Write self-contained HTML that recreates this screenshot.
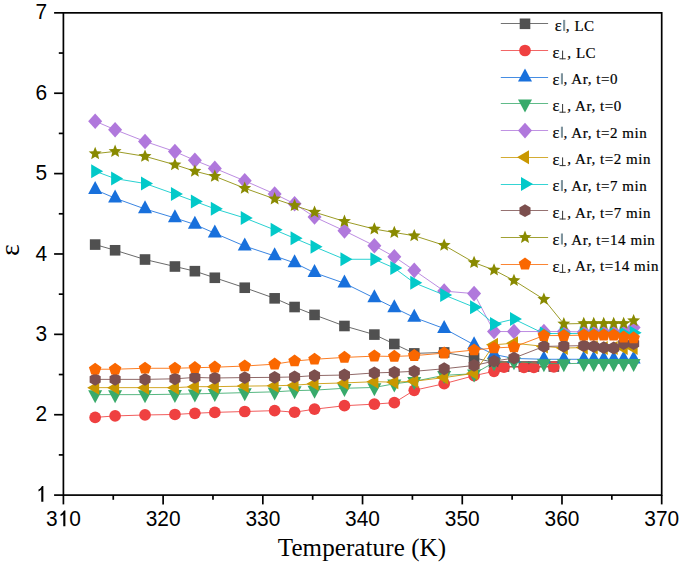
<!DOCTYPE html><html><head><meta charset="utf-8"><style>html,body{margin:0;padding:0;background:#fff;}svg{display:block}</style></head><body>
<svg width="685" height="565" viewBox="0 0 685 565">
<rect width="685" height="565" fill="#fff"/>
<polyline points="95.16,244.57 115.1,250.28 145.02,259.52 174.93,266.51 194.88,271.18 214.82,277.77 244.74,287.73 274.65,298.34 294.59,307.02 314.54,314.9 344.45,325.99 374.37,334.59 394.31,344 414.25,353.4 444.17,352.43 474.08,357.82 494.03,362.48 504,366.5 523.94,366.5 533.91,366.5 553.86,366.5" fill="none" stroke="#505050" stroke-width="1" stroke-opacity="0.85"/>
<rect x="89.86" y="239.27" width="10.6" height="10.6" fill="#505050"/>
<rect x="109.8" y="244.98" width="10.6" height="10.6" fill="#505050"/>
<rect x="139.72" y="254.22" width="10.6" height="10.6" fill="#505050"/>
<rect x="169.63" y="261.21" width="10.6" height="10.6" fill="#505050"/>
<rect x="189.58" y="265.88" width="10.6" height="10.6" fill="#505050"/>
<rect x="209.52" y="272.47" width="10.6" height="10.6" fill="#505050"/>
<rect x="239.44" y="282.43" width="10.6" height="10.6" fill="#505050"/>
<rect x="269.35" y="293.04" width="10.6" height="10.6" fill="#505050"/>
<rect x="289.29" y="301.72" width="10.6" height="10.6" fill="#505050"/>
<rect x="309.24" y="309.6" width="10.6" height="10.6" fill="#505050"/>
<rect x="339.15" y="320.69" width="10.6" height="10.6" fill="#505050"/>
<rect x="369.07" y="329.29" width="10.6" height="10.6" fill="#505050"/>
<rect x="389.01" y="338.69" width="10.6" height="10.6" fill="#505050"/>
<rect x="408.95" y="348.1" width="10.6" height="10.6" fill="#505050"/>
<rect x="438.87" y="347.13" width="10.6" height="10.6" fill="#505050"/>
<rect x="468.78" y="352.52" width="10.6" height="10.6" fill="#505050"/>
<rect x="488.73" y="357.18" width="10.6" height="10.6" fill="#505050"/>
<rect x="498.7" y="361.2" width="10.6" height="10.6" fill="#505050"/>
<rect x="518.64" y="361.2" width="10.6" height="10.6" fill="#505050"/>
<rect x="528.61" y="361.2" width="10.6" height="10.6" fill="#505050"/>
<rect x="548.56" y="361.2" width="10.6" height="10.6" fill="#505050"/>
<polyline points="95.16,417.38 115.1,415.93 145.02,414.97 174.93,414.48 194.88,413.28 214.82,412.39 244.74,411.51 274.65,410.63 294.59,412.23 314.54,409.18 344.45,405.72 374.37,404.12 394.31,402.67 414.25,390.29 444.17,383.7 474.08,375.66 494.03,371.32 504,367.06 523.94,367.3 533.91,367.3 553.86,366.9" fill="none" stroke="#ef4040" stroke-width="1" stroke-opacity="0.85"/>
<circle cx="95.16" cy="417.38" r="5.85" fill="#ef4040"/>
<circle cx="115.1" cy="415.93" r="5.85" fill="#ef4040"/>
<circle cx="145.02" cy="414.97" r="5.85" fill="#ef4040"/>
<circle cx="174.93" cy="414.48" r="5.85" fill="#ef4040"/>
<circle cx="194.88" cy="413.28" r="5.85" fill="#ef4040"/>
<circle cx="214.82" cy="412.39" r="5.85" fill="#ef4040"/>
<circle cx="244.74" cy="411.51" r="5.85" fill="#ef4040"/>
<circle cx="274.65" cy="410.63" r="5.85" fill="#ef4040"/>
<circle cx="294.59" cy="412.23" r="5.85" fill="#ef4040"/>
<circle cx="314.54" cy="409.18" r="5.85" fill="#ef4040"/>
<circle cx="344.45" cy="405.72" r="5.85" fill="#ef4040"/>
<circle cx="374.37" cy="404.12" r="5.85" fill="#ef4040"/>
<circle cx="394.31" cy="402.67" r="5.85" fill="#ef4040"/>
<circle cx="414.25" cy="390.29" r="5.85" fill="#ef4040"/>
<circle cx="444.17" cy="383.7" r="5.85" fill="#ef4040"/>
<circle cx="474.08" cy="375.66" r="5.85" fill="#ef4040"/>
<circle cx="494.03" cy="371.32" r="5.85" fill="#ef4040"/>
<circle cx="504" cy="367.06" r="5.85" fill="#ef4040"/>
<circle cx="523.94" cy="367.3" r="5.85" fill="#ef4040"/>
<circle cx="533.91" cy="367.3" r="5.85" fill="#ef4040"/>
<circle cx="553.86" cy="366.9" r="5.85" fill="#ef4040"/>
<polyline points="95.16,189.68 115.1,198.19 145.02,208.97 174.93,217.97 194.88,224.48 214.82,233.24 244.74,246.1 274.65,255.98 294.59,262.9 314.54,272.78 344.45,283.23 374.37,298.02 394.31,307.83 414.25,317.47 444.17,328.56 474.08,344.8 494.03,354.44 513.97,358.46 543.89,359.27 563.83,359.27 583.77,359.27 593.74,359.27 603.72,359.27 613.69,359.27 623.66,359.27 633.63,359.27" fill="none" stroke="#1870dc" stroke-width="1" stroke-opacity="0.85"/>
<polygon points="95.16,181.01 102.16,194.01 88.16,194.01" fill="#1870dc"/>
<polygon points="115.1,189.53 122.1,202.53 108.1,202.53" fill="#1870dc"/>
<polygon points="145.02,200.3 152.02,213.3 138.02,213.3" fill="#1870dc"/>
<polygon points="174.93,209.3 181.93,222.3 167.93,222.3" fill="#1870dc"/>
<polygon points="194.88,215.81 201.88,228.81 187.88,228.81" fill="#1870dc"/>
<polygon points="214.82,224.57 221.82,237.57 207.82,237.57" fill="#1870dc"/>
<polygon points="244.74,237.43 251.74,250.43 237.74,250.43" fill="#1870dc"/>
<polygon points="274.65,247.32 281.65,260.32 267.65,260.32" fill="#1870dc"/>
<polygon points="294.59,254.23 301.59,267.23 287.59,267.23" fill="#1870dc"/>
<polygon points="314.54,264.12 321.54,277.12 307.54,277.12" fill="#1870dc"/>
<polygon points="344.45,274.56 351.45,287.56 337.45,287.56" fill="#1870dc"/>
<polygon points="374.37,289.35 381.37,302.35 367.37,302.35" fill="#1870dc"/>
<polygon points="394.31,299.16 401.31,312.16 387.31,312.16" fill="#1870dc"/>
<polygon points="414.25,308.8 421.25,321.8 407.25,321.8" fill="#1870dc"/>
<polygon points="444.17,319.9 451.17,332.9 437.17,332.9" fill="#1870dc"/>
<polygon points="474.08,336.13 481.08,349.13 467.08,349.13" fill="#1870dc"/>
<polygon points="494.03,345.78 501.03,358.78 487.03,358.78" fill="#1870dc"/>
<polygon points="513.97,349.8 520.97,362.8 506.97,362.8" fill="#1870dc"/>
<polygon points="543.89,350.6 550.89,363.6 536.89,363.6" fill="#1870dc"/>
<polygon points="563.83,350.6 570.83,363.6 556.83,363.6" fill="#1870dc"/>
<polygon points="583.77,350.6 590.77,363.6 576.77,363.6" fill="#1870dc"/>
<polygon points="593.74,350.6 600.74,363.6 586.74,363.6" fill="#1870dc"/>
<polygon points="603.72,350.6 610.72,363.6 596.72,363.6" fill="#1870dc"/>
<polygon points="613.69,350.6 620.69,363.6 606.69,363.6" fill="#1870dc"/>
<polygon points="623.66,350.6 630.66,363.6 616.66,363.6" fill="#1870dc"/>
<polygon points="633.63,350.6 640.63,363.6 626.63,363.6" fill="#1870dc"/>
<polyline points="95.16,394.63 115.1,394.63 145.02,394.63 174.93,394.23 194.88,393.83 214.82,393.43 244.74,392.62 274.65,391.82 294.59,390.61 314.54,390.13 344.45,388.28 374.37,387.48 394.31,383.78 414.25,381.29 444.17,375.34 474.08,373.73 494.03,362.48 513.97,361.68 543.89,363.53 563.83,363.69 583.77,363.28 593.74,363.28 603.72,363.28 613.69,363.28 623.66,363.28 633.63,363.28" fill="none" stroke="#38aa6b" stroke-width="1" stroke-opacity="0.85"/>
<polygon points="95.16,403.3 88.16,390.3 102.16,390.3" fill="#38aa6b"/>
<polygon points="115.1,403.3 108.1,390.3 122.1,390.3" fill="#38aa6b"/>
<polygon points="145.02,403.3 138.02,390.3 152.02,390.3" fill="#38aa6b"/>
<polygon points="174.93,402.9 167.93,389.9 181.93,389.9" fill="#38aa6b"/>
<polygon points="194.88,402.49 187.88,389.49 201.88,389.49" fill="#38aa6b"/>
<polygon points="214.82,402.09 207.82,389.09 221.82,389.09" fill="#38aa6b"/>
<polygon points="244.74,401.29 237.74,388.29 251.74,388.29" fill="#38aa6b"/>
<polygon points="274.65,400.48 267.65,387.48 281.65,387.48" fill="#38aa6b"/>
<polygon points="294.59,399.28 287.59,386.28 301.59,386.28" fill="#38aa6b"/>
<polygon points="314.54,398.8 307.54,385.8 321.54,385.8" fill="#38aa6b"/>
<polygon points="344.45,396.95 337.45,383.95 351.45,383.95" fill="#38aa6b"/>
<polygon points="374.37,396.14 367.37,383.14 381.37,383.14" fill="#38aa6b"/>
<polygon points="394.31,392.45 387.31,379.45 401.31,379.45" fill="#38aa6b"/>
<polygon points="414.25,389.96 407.25,376.96 421.25,376.96" fill="#38aa6b"/>
<polygon points="444.17,384.01 437.17,371.01 451.17,371.01" fill="#38aa6b"/>
<polygon points="474.08,382.4 467.08,369.4 481.08,369.4" fill="#38aa6b"/>
<polygon points="494.03,371.15 487.03,358.15 501.03,358.15" fill="#38aa6b"/>
<polygon points="513.97,370.34 506.97,357.34 520.97,357.34" fill="#38aa6b"/>
<polygon points="543.89,372.19 536.89,359.19 550.89,359.19" fill="#38aa6b"/>
<polygon points="563.83,372.35 556.83,359.35 570.83,359.35" fill="#38aa6b"/>
<polygon points="583.77,371.95 576.77,358.95 590.77,358.95" fill="#38aa6b"/>
<polygon points="593.74,371.95 586.74,358.95 600.74,358.95" fill="#38aa6b"/>
<polygon points="603.72,371.95 596.72,358.95 610.72,358.95" fill="#38aa6b"/>
<polygon points="613.69,371.95 606.69,358.95 620.69,358.95" fill="#38aa6b"/>
<polygon points="623.66,371.95 616.66,358.95 630.66,358.95" fill="#38aa6b"/>
<polygon points="633.63,371.95 626.63,358.95 640.63,358.95" fill="#38aa6b"/>
<polyline points="95.16,121.2 115.1,129.72 145.02,141.45 174.93,151.58 194.88,160.34 214.82,168.38 244.74,180.83 274.65,193.93 294.59,203.82 314.54,217 344.45,230.83 374.37,245.7 394.31,256.79 414.25,270.37 444.17,291.11 474.08,293.6 494.03,331.54 513.97,331.54 543.89,331.54 563.83,331.54 583.77,331.94 593.74,331.94 603.72,331.94 613.69,331.94 623.66,331.94 633.63,327.52" fill="none" stroke="#b078dc" stroke-width="1" stroke-opacity="0.85"/>
<polygon points="95.16,113.4 102.16,121.2 95.16,129 88.16,121.2" fill="#b078dc"/>
<polygon points="115.1,121.92 122.1,129.72 115.1,137.52 108.1,129.72" fill="#b078dc"/>
<polygon points="145.02,133.65 152.02,141.45 145.02,149.25 138.02,141.45" fill="#b078dc"/>
<polygon points="174.93,143.78 181.93,151.58 174.93,159.38 167.93,151.58" fill="#b078dc"/>
<polygon points="194.88,152.54 201.88,160.34 194.88,168.14 187.88,160.34" fill="#b078dc"/>
<polygon points="214.82,160.58 221.82,168.38 214.82,176.18 207.82,168.38" fill="#b078dc"/>
<polygon points="244.74,173.03 251.74,180.83 244.74,188.63 237.74,180.83" fill="#b078dc"/>
<polygon points="274.65,186.13 281.65,193.93 274.65,201.73 267.65,193.93" fill="#b078dc"/>
<polygon points="294.59,196.02 301.59,203.82 294.59,211.62 287.59,203.82" fill="#b078dc"/>
<polygon points="314.54,209.2 321.54,217 314.54,224.8 307.54,217" fill="#b078dc"/>
<polygon points="344.45,223.03 351.45,230.83 344.45,238.63 337.45,230.83" fill="#b078dc"/>
<polygon points="374.37,237.9 381.37,245.7 374.37,253.5 367.37,245.7" fill="#b078dc"/>
<polygon points="394.31,248.99 401.31,256.79 394.31,264.59 387.31,256.79" fill="#b078dc"/>
<polygon points="414.25,262.57 421.25,270.37 414.25,278.17 407.25,270.37" fill="#b078dc"/>
<polygon points="444.17,283.31 451.17,291.11 444.17,298.91 437.17,291.11" fill="#b078dc"/>
<polygon points="474.08,285.8 481.08,293.6 474.08,301.4 467.08,293.6" fill="#b078dc"/>
<polygon points="494.03,323.74 501.03,331.54 494.03,339.34 487.03,331.54" fill="#b078dc"/>
<polygon points="513.97,323.74 520.97,331.54 513.97,339.34 506.97,331.54" fill="#b078dc"/>
<polygon points="543.89,323.74 550.89,331.54 543.89,339.34 536.89,331.54" fill="#b078dc"/>
<polygon points="563.83,323.74 570.83,331.54 563.83,339.34 556.83,331.54" fill="#b078dc"/>
<polygon points="583.77,324.14 590.77,331.94 583.77,339.74 576.77,331.94" fill="#b078dc"/>
<polygon points="593.74,324.14 600.74,331.94 593.74,339.74 586.74,331.94" fill="#b078dc"/>
<polygon points="603.72,324.14 610.72,331.94 603.72,339.74 596.72,331.94" fill="#b078dc"/>
<polygon points="613.69,324.14 620.69,331.94 613.69,339.74 606.69,331.94" fill="#b078dc"/>
<polygon points="623.66,324.14 630.66,331.94 623.66,339.74 616.66,331.94" fill="#b078dc"/>
<polygon points="633.63,319.72 640.63,327.52 633.63,335.32 626.63,327.52" fill="#b078dc"/>
<polyline points="95.16,387.64 115.1,387.64 145.02,387.64 174.93,387.64 194.88,386.67 214.82,386.67 244.74,386.11 274.65,385.79 294.59,385.15 314.54,383.78 344.45,382.9 374.37,381.69 394.31,382.17 414.25,381.21 444.17,377.59 474.08,373.33 494.03,344.8 513.97,343.19 543.89,346.41 563.83,348.01 583.77,347.61 593.74,347.61 603.72,348.01 613.69,348.01 623.66,348.01 633.63,348.01" fill="none" stroke="#c99700" stroke-width="1" stroke-opacity="0.85"/>
<polygon points="87.16,387.64 99.16,380.64 99.16,394.64" fill="#c99700"/>
<polygon points="107.1,387.64 119.1,380.64 119.1,394.64" fill="#c99700"/>
<polygon points="137.02,387.64 149.02,380.64 149.02,394.64" fill="#c99700"/>
<polygon points="166.93,387.64 178.93,380.64 178.93,394.64" fill="#c99700"/>
<polygon points="186.88,386.67 198.88,379.67 198.88,393.67" fill="#c99700"/>
<polygon points="206.82,386.67 218.82,379.67 218.82,393.67" fill="#c99700"/>
<polygon points="236.74,386.11 248.74,379.11 248.74,393.11" fill="#c99700"/>
<polygon points="266.65,385.79 278.65,378.79 278.65,392.79" fill="#c99700"/>
<polygon points="286.59,385.15 298.59,378.15 298.59,392.15" fill="#c99700"/>
<polygon points="306.54,383.78 318.54,376.78 318.54,390.78" fill="#c99700"/>
<polygon points="336.45,382.9 348.45,375.9 348.45,389.9" fill="#c99700"/>
<polygon points="366.37,381.69 378.37,374.69 378.37,388.69" fill="#c99700"/>
<polygon points="386.31,382.17 398.31,375.17 398.31,389.17" fill="#c99700"/>
<polygon points="406.25,381.21 418.25,374.21 418.25,388.21" fill="#c99700"/>
<polygon points="436.17,377.59 448.17,370.59 448.17,384.59" fill="#c99700"/>
<polygon points="466.08,373.33 478.08,366.33 478.08,380.33" fill="#c99700"/>
<polygon points="486.03,344.8 498.03,337.8 498.03,351.8" fill="#c99700"/>
<polygon points="505.97,343.19 517.97,336.19 517.97,350.19" fill="#c99700"/>
<polygon points="535.89,346.41 547.89,339.41 547.89,353.41" fill="#c99700"/>
<polygon points="555.83,348.01 567.83,341.01 567.83,355.01" fill="#c99700"/>
<polygon points="575.77,347.61 587.77,340.61 587.77,354.61" fill="#c99700"/>
<polygon points="585.74,347.61 597.74,340.61 597.74,354.61" fill="#c99700"/>
<polygon points="595.72,348.01 607.72,341.01 607.72,355.01" fill="#c99700"/>
<polygon points="605.69,348.01 617.69,341.01 617.69,355.01" fill="#c99700"/>
<polygon points="615.66,348.01 627.66,341.01 627.66,355.01" fill="#c99700"/>
<polygon points="625.63,348.01 637.63,341.01 637.63,355.01" fill="#c99700"/>
<polyline points="95.16,171.19 115.1,178.58 145.02,183.49 174.93,194.1 194.88,201.41 214.82,208.8 244.74,217.97 274.65,229.86 294.59,238.3 314.54,246.74 344.45,259.28 374.37,259.28 394.31,268.04 414.25,282.83 444.17,294.97 474.08,307.18 494.03,323.9 513.97,319.08 543.89,333.55 563.83,333.55 583.77,333.55 593.74,333.55 603.72,333.55 613.69,333.55 623.66,333.55 633.63,332.74" fill="none" stroke="#02c9c9" stroke-width="1" stroke-opacity="0.85"/>
<polygon points="103.16,171.19 91.16,178.19 91.16,164.19" fill="#02c9c9"/>
<polygon points="123.1,178.58 111.1,185.58 111.1,171.58" fill="#02c9c9"/>
<polygon points="153.02,183.49 141.02,190.49 141.02,176.49" fill="#02c9c9"/>
<polygon points="182.93,194.1 170.93,201.1 170.93,187.1" fill="#02c9c9"/>
<polygon points="202.88,201.41 190.88,208.41 190.88,194.41" fill="#02c9c9"/>
<polygon points="222.82,208.8 210.82,215.8 210.82,201.8" fill="#02c9c9"/>
<polygon points="252.74,217.97 240.74,224.97 240.74,210.97" fill="#02c9c9"/>
<polygon points="282.65,229.86 270.65,236.86 270.65,222.86" fill="#02c9c9"/>
<polygon points="302.59,238.3 290.59,245.3 290.59,231.3" fill="#02c9c9"/>
<polygon points="322.54,246.74 310.54,253.74 310.54,239.74" fill="#02c9c9"/>
<polygon points="352.45,259.28 340.45,266.28 340.45,252.28" fill="#02c9c9"/>
<polygon points="382.37,259.28 370.37,266.28 370.37,252.28" fill="#02c9c9"/>
<polygon points="402.31,268.04 390.31,275.04 390.31,261.04" fill="#02c9c9"/>
<polygon points="422.25,282.83 410.25,289.83 410.25,275.83" fill="#02c9c9"/>
<polygon points="452.17,294.97 440.17,301.97 440.17,287.97" fill="#02c9c9"/>
<polygon points="482.08,307.18 470.08,314.18 470.08,300.18" fill="#02c9c9"/>
<polygon points="502.03,323.9 490.03,330.9 490.03,316.9" fill="#02c9c9"/>
<polygon points="521.97,319.08 509.97,326.08 509.97,312.08" fill="#02c9c9"/>
<polygon points="551.89,333.55 539.89,340.55 539.89,326.55" fill="#02c9c9"/>
<polygon points="571.83,333.55 559.83,340.55 559.83,326.55" fill="#02c9c9"/>
<polygon points="591.77,333.55 579.77,340.55 579.77,326.55" fill="#02c9c9"/>
<polygon points="601.74,333.55 589.74,340.55 589.74,326.55" fill="#02c9c9"/>
<polygon points="611.72,333.55 599.72,340.55 599.72,326.55" fill="#02c9c9"/>
<polygon points="621.69,333.55 609.69,340.55 609.69,326.55" fill="#02c9c9"/>
<polygon points="631.66,333.55 619.66,340.55 619.66,326.55" fill="#02c9c9"/>
<polygon points="641.63,332.74 629.63,339.74 629.63,325.74" fill="#02c9c9"/>
<polyline points="95.16,379.36 115.1,379.36 145.02,379.36 174.93,378.8 194.88,377.43 214.82,377.99 244.74,377.59 274.65,377.35 294.59,376.95 314.54,375.58 344.45,375.02 374.37,372.93 394.31,372.29 414.25,371.32 444.17,368.75 474.08,365.46 494.03,361.11 513.97,358.06 543.89,346.41 563.83,346 583.77,345.6 593.74,346.41 603.72,347.61 613.69,348.01 623.66,343.59 633.63,343.59" fill="none" stroke="#7c4f4e" stroke-width="1" stroke-opacity="0.85"/>
<polygon points="95.16,372.96 100.7,376.16 100.7,382.56 95.16,385.76 89.62,382.56 89.62,376.16" fill="#7c4f4e"/>
<polygon points="115.1,372.96 120.65,376.16 120.65,382.56 115.1,385.76 109.56,382.56 109.56,376.16" fill="#7c4f4e"/>
<polygon points="145.02,372.96 150.56,376.16 150.56,382.56 145.02,385.76 139.48,382.56 139.48,376.16" fill="#7c4f4e"/>
<polygon points="174.93,372.4 180.48,375.6 180.48,382 174.93,385.2 169.39,382 169.39,375.6" fill="#7c4f4e"/>
<polygon points="194.88,371.03 200.42,374.23 200.42,380.63 194.88,383.83 189.33,380.63 189.33,374.23" fill="#7c4f4e"/>
<polygon points="214.82,371.59 220.36,374.79 220.36,381.19 214.82,384.39 209.28,381.19 209.28,374.79" fill="#7c4f4e"/>
<polygon points="244.74,371.19 250.28,374.39 250.28,380.79 244.74,383.99 239.19,380.79 239.19,374.39" fill="#7c4f4e"/>
<polygon points="274.65,370.95 280.19,374.15 280.19,380.55 274.65,383.75 269.11,380.55 269.11,374.15" fill="#7c4f4e"/>
<polygon points="294.59,370.55 300.14,373.75 300.14,380.15 294.59,383.35 289.05,380.15 289.05,373.75" fill="#7c4f4e"/>
<polygon points="314.54,369.18 320.08,372.38 320.08,378.78 314.54,381.98 308.99,378.78 308.99,372.38" fill="#7c4f4e"/>
<polygon points="344.45,368.62 349.99,371.82 349.99,378.22 344.45,381.42 338.91,378.22 338.91,371.82" fill="#7c4f4e"/>
<polygon points="374.37,366.53 379.91,369.73 379.91,376.13 374.37,379.33 368.82,376.13 368.82,369.73" fill="#7c4f4e"/>
<polygon points="394.31,365.89 399.85,369.09 399.85,375.49 394.31,378.69 388.77,375.49 388.77,369.09" fill="#7c4f4e"/>
<polygon points="414.25,364.92 419.8,368.12 419.8,374.52 414.25,377.72 408.71,374.52 408.71,368.12" fill="#7c4f4e"/>
<polygon points="444.17,362.35 449.71,365.55 449.71,371.95 444.17,375.15 438.63,371.95 438.63,365.55" fill="#7c4f4e"/>
<polygon points="474.08,359.06 479.63,362.26 479.63,368.66 474.08,371.86 468.54,368.66 468.54,362.26" fill="#7c4f4e"/>
<polygon points="494.03,354.71 499.57,357.91 499.57,364.31 494.03,367.51 488.48,364.31 488.48,357.91" fill="#7c4f4e"/>
<polygon points="513.97,351.66 519.51,354.86 519.51,361.26 513.97,364.46 508.43,361.26 508.43,354.86" fill="#7c4f4e"/>
<polygon points="543.89,340.01 549.43,343.21 549.43,349.61 543.89,352.81 538.34,349.61 538.34,343.21" fill="#7c4f4e"/>
<polygon points="563.83,339.6 569.37,342.8 569.37,349.2 563.83,352.4 558.29,349.2 558.29,342.8" fill="#7c4f4e"/>
<polygon points="583.77,339.2 589.31,342.4 589.31,348.8 583.77,352 578.23,348.8 578.23,342.4" fill="#7c4f4e"/>
<polygon points="593.74,340.01 599.29,343.21 599.29,349.61 593.74,352.81 588.2,349.61 588.2,343.21" fill="#7c4f4e"/>
<polygon points="603.72,341.21 609.26,344.41 609.26,350.81 603.72,354.01 598.17,350.81 598.17,344.41" fill="#7c4f4e"/>
<polygon points="613.69,341.61 619.23,344.81 619.23,351.21 613.69,354.41 608.14,351.21 608.14,344.81" fill="#7c4f4e"/>
<polygon points="623.66,337.19 629.2,340.39 629.2,346.79 623.66,349.99 618.12,346.79 618.12,340.39" fill="#7c4f4e"/>
<polygon points="633.63,337.19 639.17,340.39 639.17,346.79 633.63,349.99 628.09,346.79 628.09,340.39" fill="#7c4f4e"/>
<polyline points="95.16,153.67 115.1,151.42 145.02,156.32 174.93,164.76 194.88,171.19 214.82,176.33 244.74,188.23 274.65,198.92 294.59,205.59 314.54,212.18 344.45,221.42 374.37,229.06 394.31,232.51 414.25,235.73 444.17,245.29 474.08,262.58 494.03,270.05 513.97,280.5 543.89,299.31 563.83,323.9 583.77,323.5 593.74,323.5 603.72,323.5 613.69,323.5 623.66,323.5 633.63,320.69" fill="none" stroke="#898a00" stroke-width="1" stroke-opacity="0.85"/>
<polygon points="95.16,146.87 96.96,151.19 101.63,151.57 98.07,154.61 99.16,159.17 95.16,156.73 91.16,159.17 92.25,154.61 88.69,151.57 93.36,151.19" fill="#898a00"/>
<polygon points="115.1,144.62 116.9,148.94 121.57,149.32 118.01,152.36 119.1,156.92 115.1,154.48 111.11,156.92 112.19,152.36 108.64,149.32 113.31,148.94" fill="#898a00"/>
<polygon points="145.02,149.52 146.82,153.84 151.49,154.22 147.93,157.26 149.02,161.82 145.02,159.38 141.02,161.82 142.11,157.26 138.55,154.22 143.22,153.84" fill="#898a00"/>
<polygon points="174.93,157.96 176.73,162.28 181.4,162.66 177.84,165.7 178.93,170.26 174.93,167.82 170.94,170.26 172.02,165.7 168.47,162.66 173.14,162.28" fill="#898a00"/>
<polygon points="194.88,164.39 196.68,168.71 201.34,169.09 197.79,172.13 198.87,176.69 194.88,174.25 190.88,176.69 191.97,172.13 188.41,169.09 193.08,168.71" fill="#898a00"/>
<polygon points="214.82,169.53 216.62,173.86 221.29,174.23 217.73,177.28 218.82,181.83 214.82,179.39 210.82,181.83 211.91,177.28 208.35,174.23 213.02,173.86" fill="#898a00"/>
<polygon points="244.74,181.43 246.53,185.75 251.2,186.13 247.65,189.17 248.73,193.73 244.74,191.29 240.74,193.73 241.83,189.17 238.27,186.13 242.94,185.75" fill="#898a00"/>
<polygon points="274.65,192.12 276.45,196.44 281.12,196.82 277.56,199.86 278.65,204.42 274.65,201.98 270.65,204.42 271.74,199.86 268.18,196.82 272.85,196.44" fill="#898a00"/>
<polygon points="294.59,198.79 296.39,203.11 301.06,203.49 297.5,206.53 298.59,211.09 294.59,208.65 290.6,211.09 291.68,206.53 288.13,203.49 292.8,203.11" fill="#898a00"/>
<polygon points="314.54,205.38 316.34,209.7 321,210.08 317.45,213.13 318.53,217.68 314.54,215.24 310.54,217.68 311.63,213.13 308.07,210.08 312.74,209.7" fill="#898a00"/>
<polygon points="344.45,214.62 346.25,218.95 350.92,219.32 347.36,222.37 348.45,226.92 344.45,224.48 340.46,226.92 341.54,222.37 337.99,219.32 342.65,218.95" fill="#898a00"/>
<polygon points="374.37,222.26 376.17,226.58 380.83,226.96 377.28,230 378.36,234.56 374.37,232.12 370.37,234.56 371.46,230 367.9,226.96 372.57,226.58" fill="#898a00"/>
<polygon points="394.31,225.71 396.11,230.04 400.78,230.41 397.22,233.46 398.31,238.02 394.31,235.57 390.31,238.02 391.4,233.46 387.84,230.41 392.51,230.04" fill="#898a00"/>
<polygon points="414.25,228.93 416.05,233.25 420.72,233.63 417.16,236.68 418.25,241.23 414.25,238.79 410.26,241.23 411.34,236.68 407.79,233.63 412.46,233.25" fill="#898a00"/>
<polygon points="444.17,238.49 445.97,242.82 450.64,243.19 447.08,246.24 448.17,250.8 444.17,248.35 440.17,250.8 441.26,246.24 437.7,243.19 442.37,242.82" fill="#898a00"/>
<polygon points="474.08,255.78 475.88,260.1 480.55,260.47 476.99,263.52 478.08,268.08 474.08,265.64 470.09,268.08 471.17,263.52 467.62,260.47 472.29,260.1" fill="#898a00"/>
<polygon points="494.03,263.25 495.83,267.57 500.49,267.95 496.94,271 498.02,275.55 494.03,273.11 490.03,275.55 491.12,271 487.56,267.95 492.23,267.57" fill="#898a00"/>
<polygon points="513.97,273.7 515.77,278.02 520.44,278.4 516.88,281.44 517.97,286 513.97,283.56 509.97,286 511.06,281.44 507.5,278.4 512.17,278.02" fill="#898a00"/>
<polygon points="543.89,292.51 545.68,296.83 550.35,297.21 546.8,300.25 547.88,304.81 543.89,302.37 539.89,304.81 540.98,300.25 537.42,297.21 542.09,296.83" fill="#898a00"/>
<polygon points="563.83,317.1 565.63,321.43 570.3,321.8 566.74,324.85 567.83,329.4 563.83,326.96 559.83,329.4 560.92,324.85 557.36,321.8 562.03,321.43" fill="#898a00"/>
<polygon points="583.77,316.7 585.57,321.02 590.24,321.4 586.68,324.44 587.77,329 583.77,326.56 579.78,329 580.86,324.44 577.31,321.4 581.97,321.02" fill="#898a00"/>
<polygon points="593.74,316.7 595.54,321.02 600.21,321.4 596.65,324.44 597.74,329 593.74,326.56 589.75,329 590.83,324.44 587.28,321.4 591.95,321.02" fill="#898a00"/>
<polygon points="603.72,316.7 605.51,321.02 610.18,321.4 606.63,324.44 607.71,329 603.72,326.56 599.72,329 600.81,324.44 597.25,321.4 601.92,321.02" fill="#898a00"/>
<polygon points="613.69,316.7 615.49,321.02 620.15,321.4 616.6,324.44 617.68,329 613.69,326.56 609.69,329 610.78,324.44 607.22,321.4 611.89,321.02" fill="#898a00"/>
<polygon points="623.66,316.7 625.46,321.02 630.13,321.4 626.57,324.44 627.66,329 623.66,326.56 619.66,329 620.75,324.44 617.19,321.4 621.86,321.02" fill="#898a00"/>
<polygon points="633.63,313.89 635.43,318.21 640.1,318.58 636.54,321.63 637.63,326.19 633.63,323.75 629.63,326.19 630.72,321.63 627.16,318.58 631.83,318.21" fill="#898a00"/>
<polyline points="95.16,369.23 115.1,369.23 145.02,368.27 174.93,368.27 194.88,367.71 214.82,367.22 244.74,366.02 274.65,364.17 294.59,361.03 314.54,359.27 344.45,357.42 374.37,356.13 394.31,356.45 414.25,355.65 444.17,353.08 474.08,350.02 494.03,348.01 513.97,346.97 543.89,335.56 563.83,335.56 583.77,335.15 593.74,335.15 603.72,335.15 613.69,335.15 623.66,337.16 633.63,337.97" fill="none" stroke="#fa6700" stroke-width="1" stroke-opacity="0.85"/>
<polygon points="95.16,362.63 101.44,367.19 99.04,374.57 91.28,374.57 88.88,367.19" fill="#fa6700"/>
<polygon points="115.1,362.63 121.38,367.19 118.98,374.57 111.22,374.57 108.83,367.19" fill="#fa6700"/>
<polygon points="145.02,361.67 151.3,366.23 148.9,373.61 141.14,373.61 138.74,366.23" fill="#fa6700"/>
<polygon points="174.93,361.67 181.21,366.23 178.81,373.61 171.05,373.61 168.66,366.23" fill="#fa6700"/>
<polygon points="194.88,361.11 201.15,365.67 198.76,373.05 191,373.05 188.6,365.67" fill="#fa6700"/>
<polygon points="214.82,360.62 221.1,365.18 218.7,372.56 210.94,372.56 208.54,365.18" fill="#fa6700"/>
<polygon points="244.74,359.42 251.01,363.98 248.62,371.36 240.86,371.36 238.46,363.98" fill="#fa6700"/>
<polygon points="274.65,357.57 280.93,362.13 278.53,369.51 270.77,369.51 268.37,362.13" fill="#fa6700"/>
<polygon points="294.59,354.43 300.87,358.99 298.47,366.37 290.71,366.37 288.32,358.99" fill="#fa6700"/>
<polygon points="314.54,352.67 320.81,357.23 318.42,364.61 310.66,364.61 308.26,357.23" fill="#fa6700"/>
<polygon points="344.45,350.82 350.73,355.38 348.33,362.76 340.57,362.76 338.18,355.38" fill="#fa6700"/>
<polygon points="374.37,349.53 380.64,354.09 378.25,361.47 370.49,361.47 368.09,354.09" fill="#fa6700"/>
<polygon points="394.31,349.85 400.59,354.41 398.19,361.79 390.43,361.79 388.03,354.41" fill="#fa6700"/>
<polygon points="414.25,349.05 420.53,353.61 418.13,360.99 410.37,360.99 407.98,353.61" fill="#fa6700"/>
<polygon points="444.17,346.48 450.45,351.04 448.05,358.42 440.29,358.42 437.89,351.04" fill="#fa6700"/>
<polygon points="474.08,343.42 480.36,347.98 477.96,355.36 470.2,355.36 467.81,347.98" fill="#fa6700"/>
<polygon points="494.03,341.41 500.3,345.97 497.91,353.35 490.15,353.35 487.75,345.97" fill="#fa6700"/>
<polygon points="513.97,340.37 520.25,344.93 517.85,352.31 510.09,352.31 507.69,344.93" fill="#fa6700"/>
<polygon points="543.89,328.96 550.16,333.52 547.77,340.9 540.01,340.9 537.61,333.52" fill="#fa6700"/>
<polygon points="563.83,328.96 570.11,333.52 567.71,340.9 559.95,340.9 557.55,333.52" fill="#fa6700"/>
<polygon points="583.77,328.55 590.05,333.11 587.65,340.49 579.89,340.49 577.5,333.11" fill="#fa6700"/>
<polygon points="593.74,328.55 600.02,333.11 597.62,340.49 589.86,340.49 587.47,333.11" fill="#fa6700"/>
<polygon points="603.72,328.55 609.99,333.11 607.6,340.49 599.84,340.49 597.44,333.11" fill="#fa6700"/>
<polygon points="613.69,328.55 619.96,333.11 617.57,340.49 609.81,340.49 607.41,333.11" fill="#fa6700"/>
<polygon points="623.66,330.56 629.94,335.12 627.54,342.5 619.78,342.5 617.38,335.12" fill="#fa6700"/>
<polygon points="633.63,331.37 639.91,335.93 637.51,343.31 629.75,343.31 627.35,335.93" fill="#fa6700"/>
<g stroke="#000" stroke-width="1.7" fill="none" stroke-linecap="butt">
<rect x="63.4" y="12.85" width="598.3" height="482.25"/>
<line x1="54.1" y1="495.1" x2="63.4" y2="495.1"/>
<line x1="54.1" y1="414.73" x2="63.4" y2="414.73"/>
<line x1="54.1" y1="334.35" x2="63.4" y2="334.35"/>
<line x1="54.1" y1="253.98" x2="63.4" y2="253.98"/>
<line x1="54.1" y1="173.6" x2="63.4" y2="173.6"/>
<line x1="54.1" y1="93.23" x2="63.4" y2="93.23"/>
<line x1="54.1" y1="12.85" x2="63.4" y2="12.85"/>
<line x1="58.8" y1="454.91" x2="63.4" y2="454.91"/>
<line x1="58.8" y1="374.54" x2="63.4" y2="374.54"/>
<line x1="58.8" y1="294.16" x2="63.4" y2="294.16"/>
<line x1="58.8" y1="213.79" x2="63.4" y2="213.79"/>
<line x1="58.8" y1="133.41" x2="63.4" y2="133.41"/>
<line x1="58.8" y1="53.04" x2="63.4" y2="53.04"/>
<line x1="63.4" y1="495.1" x2="63.4" y2="504.4"/>
<line x1="163.12" y1="495.1" x2="163.12" y2="504.4"/>
<line x1="262.83" y1="495.1" x2="262.83" y2="504.4"/>
<line x1="362.55" y1="495.1" x2="362.55" y2="504.4"/>
<line x1="462.27" y1="495.1" x2="462.27" y2="504.4"/>
<line x1="561.98" y1="495.1" x2="561.98" y2="504.4"/>
<line x1="661.7" y1="495.1" x2="661.7" y2="504.4"/>
<line x1="113.26" y1="495.1" x2="113.26" y2="499.8"/>
<line x1="212.98" y1="495.1" x2="212.98" y2="499.8"/>
<line x1="312.69" y1="495.1" x2="312.69" y2="499.8"/>
<line x1="412.41" y1="495.1" x2="412.41" y2="499.8"/>
<line x1="512.13" y1="495.1" x2="512.13" y2="499.8"/>
<line x1="611.84" y1="495.1" x2="611.84" y2="499.8"/>
</g>
<g font-family="Liberation Sans, sans-serif" font-size="22" fill="#000">
<path d="M43.37,501.7 L41.26,501.7 L41.26,489.6 L40.8,490.11 L39.76,490.83 L38.51,491.47 L38.51,489.6 L39.97,488.68 L40.85,487.69 L41.41,486.74 L42.17,485.95 L43.37,485.95 Z"/>
<text transform="translate(35.58,421.33) scale(0.95,1)">2</text>
<text transform="translate(35.58,340.95) scale(0.95,1)">3</text>
<text transform="translate(35.58,260.58) scale(0.95,1)">4</text>
<text transform="translate(35.58,180.2) scale(0.95,1)">5</text>
<text transform="translate(35.58,99.83) scale(0.95,1)">6</text>
<text transform="translate(35.58,19.45) scale(0.95,1)">7</text>
<text transform="translate(45.97,526.3) scale(0.95,1)">3</text><path d="M65.38,526.3 L63.27,526.3 L63.27,514.2 L62.81,514.71 L61.77,515.43 L60.52,516.07 L60.52,514.2 L61.98,513.28 L62.86,512.29 L63.42,511.34 L64.18,510.55 L65.38,510.55 Z"/><text transform="translate(69.21,526.3) scale(0.95,1)">0</text>
<text transform="translate(145.69,526.3) scale(0.95,1)">3</text><text transform="translate(157.31,526.3) scale(0.95,1)">2</text><text transform="translate(168.93,526.3) scale(0.95,1)">0</text>
<text transform="translate(245.4,526.3) scale(0.95,1)">3</text><text transform="translate(257.02,526.3) scale(0.95,1)">3</text><text transform="translate(268.64,526.3) scale(0.95,1)">0</text>
<text transform="translate(345.12,526.3) scale(0.95,1)">3</text><text transform="translate(356.74,526.3) scale(0.95,1)">4</text><text transform="translate(368.36,526.3) scale(0.95,1)">0</text>
<text transform="translate(444.84,526.3) scale(0.95,1)">3</text><text transform="translate(456.46,526.3) scale(0.95,1)">5</text><text transform="translate(468.08,526.3) scale(0.95,1)">0</text>
<text transform="translate(544.55,526.3) scale(0.95,1)">3</text><text transform="translate(556.17,526.3) scale(0.95,1)">6</text><text transform="translate(567.79,526.3) scale(0.95,1)">0</text>
<text transform="translate(644.27,526.3) scale(0.95,1)">3</text><text transform="translate(655.89,526.3) scale(0.95,1)">7</text><text transform="translate(667.51,526.3) scale(0.95,1)">0</text>
</g>
<text x="362" y="556.3" text-anchor="middle" font-family="Liberation Serif, serif" font-size="25" letter-spacing="0.1" fill="#000">Temperature (K)</text>
<text transform="translate(18.9,250.2) rotate(-90)" text-anchor="middle" font-family="Liberation Serif, serif" font-size="28" fill="#000">ε</text>
<line x1="500.8" y1="23.5" x2="548.1" y2="23.5" stroke="#505050" stroke-width="1" stroke-opacity="0.8"/>
<rect x="519.7" y="18.5" width="10.6" height="10.6" fill="#505050"/>
<text transform="translate(554.8,31.2)" font-family="Liberation Serif, serif" font-size="16.5" fill="#000" stroke="#000" stroke-width="0.2">ε</text>
<rect x="563.1" y="19.9" width="2.1" height="11" fill="#7f949e"/>
<text x="565.8" y="30.9" font-family="Liberation Serif, serif" font-size="15" letter-spacing="0.55" fill="#000" stroke="#000" stroke-width="0.2">, LC</text>
<line x1="500.8" y1="50.5" x2="548.1" y2="50.5" stroke="#ef4040" stroke-width="1" stroke-opacity="0.8"/>
<circle cx="525" cy="50.5" r="5.85" fill="#ef4040"/>
<text transform="translate(552.6,57.9)" font-family="Liberation Serif, serif" font-size="16.5" fill="#000" stroke="#000" stroke-width="0.2">ε</text>
<path d="M562.6 50.6V59.3M559.5 58.8H565.7" stroke="#333" stroke-width="1"/>
<text x="567.3" y="57.6" font-family="Liberation Serif, serif" font-size="15" letter-spacing="0.55" fill="#000" stroke="#000" stroke-width="0.2">, LC</text>
<line x1="500.8" y1="77.5" x2="548.1" y2="77.5" stroke="#1870dc" stroke-width="1" stroke-opacity="0.8"/>
<polygon points="525,68.53 532,81.53 518,81.53" fill="#1870dc"/>
<text transform="translate(552.6,84.6)" font-family="Liberation Serif, serif" font-size="16.5" fill="#000" stroke="#000" stroke-width="0.2">ε</text>
<rect x="560.9" y="73.3" width="2.1" height="11" fill="#7f949e"/>
<text x="563.6" y="84.3" font-family="Liberation Serif, serif" font-size="15" letter-spacing="0.55" fill="#000" stroke="#000" stroke-width="0.2">, Ar, t=0</text>
<line x1="500.8" y1="103.5" x2="548.1" y2="103.5" stroke="#38aa6b" stroke-width="1" stroke-opacity="0.8"/>
<polygon points="525,112.57 518,99.57 532,99.57" fill="#38aa6b"/>
<text transform="translate(552.6,111.3)" font-family="Liberation Serif, serif" font-size="16.5" fill="#000" stroke="#000" stroke-width="0.2">ε</text>
<path d="M562.6 104V112.7M559.5 112.2H565.7" stroke="#333" stroke-width="1"/>
<text x="567.3" y="111" font-family="Liberation Serif, serif" font-size="15" letter-spacing="0.55" fill="#000" stroke="#000" stroke-width="0.2">, Ar, t=0</text>
<line x1="500.8" y1="130.5" x2="548.1" y2="130.5" stroke="#b078dc" stroke-width="1" stroke-opacity="0.8"/>
<polygon points="525,122.8 532,130.6 525,138.4 518,130.6" fill="#b078dc"/>
<text transform="translate(552.6,138)" font-family="Liberation Serif, serif" font-size="16.5" fill="#000" stroke="#000" stroke-width="0.2">ε</text>
<rect x="560.9" y="126.7" width="2.1" height="11" fill="#7f949e"/>
<text x="563.6" y="137.7" font-family="Liberation Serif, serif" font-size="15" letter-spacing="0.55" fill="#000" stroke="#000" stroke-width="0.2">, Ar, t=2 min</text>
<line x1="500.8" y1="157.5" x2="548.1" y2="157.5" stroke="#c99700" stroke-width="1" stroke-opacity="0.8"/>
<polygon points="517,157.3 529,150.3 529,164.3" fill="#c99700"/>
<text transform="translate(552.6,164.7)" font-family="Liberation Serif, serif" font-size="16.5" fill="#000" stroke="#000" stroke-width="0.2">ε</text>
<path d="M562.6 157.4V166.1M559.5 165.6H565.7" stroke="#333" stroke-width="1"/>
<text x="567.3" y="164.4" font-family="Liberation Serif, serif" font-size="15" letter-spacing="0.55" fill="#000" stroke="#000" stroke-width="0.2">, Ar, t=2 min</text>
<line x1="500.8" y1="184.5" x2="548.1" y2="184.5" stroke="#02c9c9" stroke-width="1" stroke-opacity="0.8"/>
<polygon points="533,184 521,191 521,177" fill="#02c9c9"/>
<text transform="translate(552.6,191.4)" font-family="Liberation Serif, serif" font-size="16.5" fill="#000" stroke="#000" stroke-width="0.2">ε</text>
<rect x="560.9" y="180.1" width="2.1" height="11" fill="#7f949e"/>
<text x="563.6" y="191.1" font-family="Liberation Serif, serif" font-size="15" letter-spacing="0.55" fill="#000" stroke="#000" stroke-width="0.2">, Ar, t=7 min</text>
<line x1="500.8" y1="210.5" x2="548.1" y2="210.5" stroke="#7c4f4e" stroke-width="1" stroke-opacity="0.8"/>
<polygon points="525,204.3 530.54,207.5 530.54,213.9 525,217.1 519.46,213.9 519.46,207.5" fill="#7c4f4e"/>
<text transform="translate(552.6,218.1)" font-family="Liberation Serif, serif" font-size="16.5" fill="#000" stroke="#000" stroke-width="0.2">ε</text>
<path d="M562.6 210.8V219.5M559.5 219H565.7" stroke="#333" stroke-width="1"/>
<text x="567.3" y="217.8" font-family="Liberation Serif, serif" font-size="15" letter-spacing="0.55" fill="#000" stroke="#000" stroke-width="0.2">, Ar, t=7 min</text>
<line x1="500.8" y1="237.5" x2="548.1" y2="237.5" stroke="#898a00" stroke-width="1" stroke-opacity="0.8"/>
<polygon points="525,230.6 526.8,234.92 531.47,235.3 527.91,238.35 529,242.9 525,240.46 521,242.9 522.09,238.35 518.53,235.3 523.2,234.92" fill="#898a00"/>
<text transform="translate(552.6,244.8)" font-family="Liberation Serif, serif" font-size="16.5" fill="#000" stroke="#000" stroke-width="0.2">ε</text>
<rect x="560.9" y="233.5" width="2.1" height="11" fill="#7f949e"/>
<text x="563.6" y="244.5" font-family="Liberation Serif, serif" font-size="15" letter-spacing="0.55" fill="#000" stroke="#000" stroke-width="0.2">, Ar, t=14 min</text>
<line x1="500.8" y1="264.5" x2="548.1" y2="264.5" stroke="#fa6700" stroke-width="1" stroke-opacity="0.8"/>
<polygon points="525,257.5 531.28,262.06 528.88,269.44 521.12,269.44 518.72,262.06" fill="#fa6700"/>
<text transform="translate(552.6,271.5)" font-family="Liberation Serif, serif" font-size="16.5" fill="#000" stroke="#000" stroke-width="0.2">ε</text>
<path d="M562.6 264.2V272.9M559.5 272.4H565.7" stroke="#333" stroke-width="1"/>
<text x="567.3" y="271.2" font-family="Liberation Serif, serif" font-size="15" letter-spacing="0.55" fill="#000" stroke="#000" stroke-width="0.2">, Ar, t=14 min</text>
</svg></body></html>
